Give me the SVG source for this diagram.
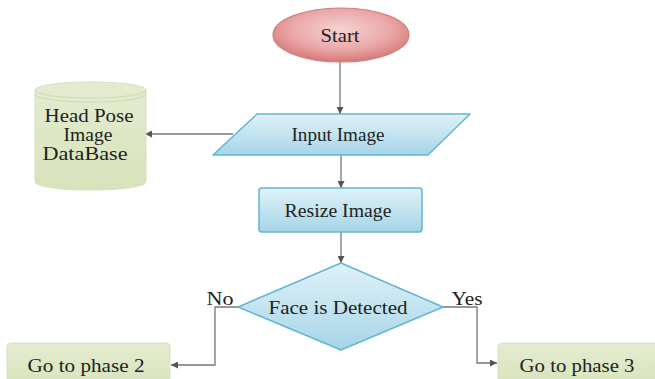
<svg xmlns="http://www.w3.org/2000/svg" width="655" height="379" viewBox="0 0 655 379">
<style>
  .t { font-family: "Liberation Serif", "DejaVu Serif", "Times New Roman", serif; font-size: 18px; fill: #222; text-anchor: middle; }
  .conn { fill: none; stroke: #777; stroke-width: 1.3; }
  .blue { fill: url(#gBlue); stroke: #62b6d4; stroke-width: 1.5; stroke-linejoin: round; }
  .green { fill: url(#gGreen); stroke: #d6e0c0; stroke-width: 1; }
</style>
<defs>
  <linearGradient id="gBlue" x1="0" y1="0" x2="0" y2="1">
    <stop offset="0" stop-color="#dff1f8"/>
    <stop offset="0.5" stop-color="#c3e4f0"/>
    <stop offset="1" stop-color="#a6d4e6"/>
  </linearGradient>
  <linearGradient id="gGreen" x1="0" y1="0" x2="0" y2="1">
    <stop offset="0" stop-color="#e4ecd0"/>
    <stop offset="1" stop-color="#d7e3bb"/>
  </linearGradient>
  <radialGradient id="gRed" cx="0.5" cy="0.4" r="0.6">
    <stop offset="0" stop-color="#f6d2d2"/>
    <stop offset="0.6" stop-color="#eba9a9"/>
    <stop offset="1" stop-color="#d67878"/>
  </radialGradient>
  <marker id="arr" viewBox="0 0 10 10" refX="10" refY="5" markerWidth="7" markerHeight="7" orient="auto" markerUnits="userSpaceOnUse">
    <path d="M0,0 L10,5 L0,10 z" fill="#555"/>
  </marker>
</defs>

<g id="connectors">
  <line class="conn" x1="340" y1="62" x2="340" y2="114" marker-end="url(#arr)"/>
  <line class="conn" x1="233" y1="134" x2="145" y2="134" marker-end="url(#arr)"/>
  <line class="conn" x1="341" y1="155" x2="341" y2="188" marker-end="url(#arr)"/>
  <line class="conn" x1="341" y1="232" x2="341" y2="263" marker-end="url(#arr)"/>
  <polyline class="conn" points="238,307 215,307 215,365 171,365" marker-end="url(#arr)"/>
  <polyline class="conn" points="443,307 477,307 477,363 497,363" marker-end="url(#arr)"/>
</g>

<g id="start">
  <ellipse cx="341" cy="35" rx="68" ry="27" fill="url(#gRed)" stroke="#cf8080" stroke-width="1.2"/>
  <text class="t" x="340" y="42" textLength="39" lengthAdjust="spacingAndGlyphs">Start</text>
</g>

<g id="database">
  <path class="green" d="M35,90 A55,8 0 0 1 146,90 L146,182 A55,8 0 0 1 35,182 Z"/>
  <path d="M35,90 A55,8 0 0 0 146,90" fill="none" stroke="#cdd9b3" stroke-width="1"/>
  <path d="M35,94 A55,8 0 0 0 146,94" fill="none" stroke="#cdd9b3" stroke-width="1"/>
  <text class="t" x="89" y="122" textLength="89" lengthAdjust="spacingAndGlyphs">Head Pose</text>
  <text class="t" x="88" y="141" textLength="49" lengthAdjust="spacingAndGlyphs">Image</text>
  <text class="t" x="85" y="160" textLength="85" lengthAdjust="spacingAndGlyphs">DataBase</text>
</g>

<g id="input-image">
  <path class="blue" d="M257,114 L470,114 L428,155 L213,155 Z"/>
  <text class="t" x="338" y="141" textLength="93" lengthAdjust="spacingAndGlyphs">Input Image</text>
</g>

<g id="resize-image">
  <rect class="blue" x="259" y="188" width="163" height="44" rx="3"/>
  <text class="t" x="338" y="217" textLength="107" lengthAdjust="spacingAndGlyphs">Resize Image</text>
</g>

<g id="face-detected">
  <path class="blue" d="M341,263 L443,307 L341,350 L238,307 Z"/>
  <text class="t" x="338" y="314" textLength="139" lengthAdjust="spacingAndGlyphs">Face is Detected</text>
  <text class="t" x="220" y="305" textLength="27" lengthAdjust="spacingAndGlyphs">No</text>
  <text class="t" x="467" y="305" textLength="31" lengthAdjust="spacingAndGlyphs">Yes</text>
</g>

<g id="phase2">
  <rect class="green" x="7" y="343" width="163" height="45" rx="4"/>
  <text class="t" x="86" y="372" textLength="117" lengthAdjust="spacingAndGlyphs">Go to phase 2</text>
</g>

<g id="phase3">
  <rect class="green" x="498" y="343" width="163" height="45" rx="4"/>
  <text class="t" x="577" y="372" textLength="115" lengthAdjust="spacingAndGlyphs">Go to phase 3</text>
</g>
</svg>
